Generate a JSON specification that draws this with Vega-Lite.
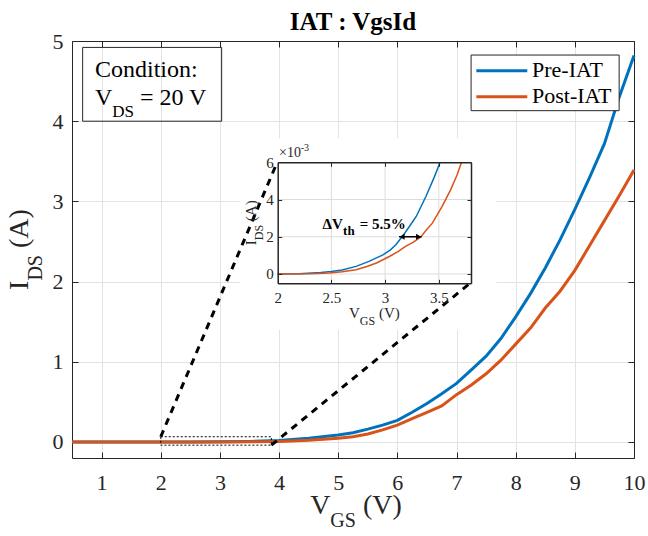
{
  "$schema": "https://vega.github.io/schema/vega-lite/v6.json",
  "width": 562,
  "height": 417,
  "autosize": {"type": "none"},
  "padding": {"left": 72, "top": 41, "right": 14, "bottom": 78},
  "background": "white",
  "data": {"values": [{}]},
  "config": {
    "view": {"stroke": null},
    "font": "Liberation Serif",
    "axis": {"domainColor": "#262626", "tickColor": "#262626", "labelColor": "#262626", "gridColor": "#e3e3e3", "labelFont": "Liberation Serif", "labelFlush": false, "labelOverlap": false},
    "text": {"font": "Liberation Serif"}
  },
  "layer": [
    {
      "layer": [
        {
          "layer": [
            {
              "mark": {"type": "rect", "fill": "white", "stroke": null},
              "encoding": {
                "x": {"datum": 3.34, "type": "quantitative"},
                "x2": {"datum": 7.67},
                "y": {"datum": 3.79, "type": "quantitative"},
                "y2": {"datum": 1.4}
              }
            },
            {
              "data": {"values": [
                {"series": "Pre-IAT", "VGS": 0.5, "IDS": 0},
                {"series": "Pre-IAT", "VGS": 1, "IDS": 0},
                {"series": "Pre-IAT", "VGS": 1.5, "IDS": 0},
                {"series": "Pre-IAT", "VGS": 2, "IDS": 0},
                {"series": "Pre-IAT", "VGS": 2.5, "IDS": 0.001},
                {"series": "Pre-IAT", "VGS": 3, "IDS": 0.002},
                {"series": "Pre-IAT", "VGS": 3.5, "IDS": 0.006},
                {"series": "Pre-IAT", "VGS": 4, "IDS": 0.018},
                {"series": "Pre-IAT", "VGS": 4.5, "IDS": 0.045},
                {"series": "Pre-IAT", "VGS": 5, "IDS": 0.087},
                {"series": "Pre-IAT", "VGS": 5.25, "IDS": 0.115},
                {"series": "Pre-IAT", "VGS": 5.5, "IDS": 0.16},
                {"series": "Pre-IAT", "VGS": 5.75, "IDS": 0.21},
                {"series": "Pre-IAT", "VGS": 6, "IDS": 0.27},
                {"series": "Pre-IAT", "VGS": 6.25, "IDS": 0.37},
                {"series": "Pre-IAT", "VGS": 6.5, "IDS": 0.48},
                {"series": "Pre-IAT", "VGS": 6.75, "IDS": 0.6},
                {"series": "Pre-IAT", "VGS": 7, "IDS": 0.73},
                {"series": "Pre-IAT", "VGS": 7.25, "IDS": 0.9},
                {"series": "Pre-IAT", "VGS": 7.5, "IDS": 1.07},
                {"series": "Pre-IAT", "VGS": 7.75, "IDS": 1.29},
                {"series": "Pre-IAT", "VGS": 8, "IDS": 1.56},
                {"series": "Pre-IAT", "VGS": 8.25, "IDS": 1.85},
                {"series": "Pre-IAT", "VGS": 8.5, "IDS": 2.17},
                {"series": "Pre-IAT", "VGS": 8.75, "IDS": 2.52},
                {"series": "Pre-IAT", "VGS": 9, "IDS": 2.9},
                {"series": "Pre-IAT", "VGS": 9.25, "IDS": 3.3},
                {"series": "Pre-IAT", "VGS": 9.5, "IDS": 3.72},
                {"series": "Pre-IAT", "VGS": 9.75, "IDS": 4.3},
                {"series": "Pre-IAT", "VGS": 10, "IDS": 4.82},
                {"series": "Post-IAT", "VGS": 0.5, "IDS": 0},
                {"series": "Post-IAT", "VGS": 1, "IDS": 0},
                {"series": "Post-IAT", "VGS": 2, "IDS": 0},
                {"series": "Post-IAT", "VGS": 3, "IDS": 0},
                {"series": "Post-IAT", "VGS": 3.5, "IDS": 0.002},
                {"series": "Post-IAT", "VGS": 4, "IDS": 0.006},
                {"series": "Post-IAT", "VGS": 4.5, "IDS": 0.02},
                {"series": "Post-IAT", "VGS": 5, "IDS": 0.046},
                {"series": "Post-IAT", "VGS": 5.25, "IDS": 0.065},
                {"series": "Post-IAT", "VGS": 5.5, "IDS": 0.1},
                {"series": "Post-IAT", "VGS": 5.75, "IDS": 0.15},
                {"series": "Post-IAT", "VGS": 6, "IDS": 0.21},
                {"series": "Post-IAT", "VGS": 6.25, "IDS": 0.29},
                {"series": "Post-IAT", "VGS": 6.5, "IDS": 0.37},
                {"series": "Post-IAT", "VGS": 6.75, "IDS": 0.45},
                {"series": "Post-IAT", "VGS": 7, "IDS": 0.59},
                {"series": "Post-IAT", "VGS": 7.25, "IDS": 0.71},
                {"series": "Post-IAT", "VGS": 7.5, "IDS": 0.85},
                {"series": "Post-IAT", "VGS": 7.75, "IDS": 1.02},
                {"series": "Post-IAT", "VGS": 8, "IDS": 1.22},
                {"series": "Post-IAT", "VGS": 8.25, "IDS": 1.42},
                {"series": "Post-IAT", "VGS": 8.5, "IDS": 1.67},
                {"series": "Post-IAT", "VGS": 8.75, "IDS": 1.88},
                {"series": "Post-IAT", "VGS": 9, "IDS": 2.14},
                {"series": "Post-IAT", "VGS": 9.25, "IDS": 2.45},
                {"series": "Post-IAT", "VGS": 9.5, "IDS": 2.76},
                {"series": "Post-IAT", "VGS": 9.75, "IDS": 3.07},
                {"series": "Post-IAT", "VGS": 10, "IDS": 3.39}
              ]},
              "mark": {"type": "line", "strokeWidth": 3},
              "encoding": {
                "x": {"field": "VGS", "type": "quantitative", "scale": {"domain": [0.5, 10], "nice": false, "zero": false},
                  "axis": {"orient": "bottom", "title": null, "values": [1, 2, 3, 4, 5, 6, 7, 8, 9, 10], "format": "d", "grid": true, "tickSize": -6, "labelFontSize": 22, "labelPadding": 20.5, "domainWidth": 1, "zindex": 0}},
                "y": {"field": "IDS", "type": "quantitative", "scale": {"domain": [-0.2, 5], "nice": false, "zero": false},
                  "axis": {"orient": "left", "title": null, "values": [0, 1, 2, 3, 4, 5], "format": "d", "grid": true, "tickSize": -6, "labelFontSize": 22, "labelPadding": 15, "domainWidth": 1, "zindex": 0}},
                "color": {"field": "series", "type": "nominal", "scale": {"domain": ["Pre-IAT", "Post-IAT"], "range": ["#0072BD", "#D95319"]}, "legend": null}
              }
            },
            {
              "mark": {"type": "rect", "filled": false, "stroke": "black", "strokeWidth": 1, "strokeDash": [2, 2]},
              "encoding": {
                "x": {"datum": 2, "type": "quantitative"},
                "x2": {"datum": 3.87},
                "y": {"datum": 0.065, "type": "quantitative"},
                "y2": {"datum": -0.04}
              }
            },
            {
              "data": {"values": [
                {"x1": 2, "y1": 0.065, "x2": 3.97, "y2": 3.49},
                {"x1": 3.87, "y1": -0.04, "x2": 7.23, "y2": 1.98}
              ]},
              "mark": {"type": "rule", "color": "black", "strokeWidth": 3, "strokeDash": [7, 6]},
              "encoding": {
                "x": {"field": "x1", "type": "quantitative"},
                "y": {"field": "y1", "type": "quantitative"},
                "x2": {"field": "x2"},
                "y2": {"field": "y2"}
              }
            },
            {
              "mark": {"type": "rect", "filled": false, "stroke": "#262626", "strokeWidth": 1},
              "encoding": {
                "x": {"datum": 0.68, "type": "quantitative"},
                "x2": {"datum": 3.03},
                "y": {"datum": 4.92, "type": "quantitative"},
                "y2": {"datum": 4.0}
              }
            },
            {
              "mark": {"type": "text", "text": "Condition:", "fontSize": 24, "align": "left", "baseline": "alphabetic", "color": "black"},
              "encoding": {"x": {"datum": 0.888, "type": "quantitative"}, "y": {"datum": 4.547, "type": "quantitative"}}
            },
            {
              "mark": {"type": "text", "text": "V", "fontSize": 24, "align": "left", "baseline": "alphabetic", "color": "black", "dy": 27.7},
              "encoding": {"x": {"datum": 0.888, "type": "quantitative"}, "y": {"datum": 4.547, "type": "quantitative"}}
            },
            {
              "mark": {"type": "text", "text": "DS", "fontSize": 17, "align": "left", "baseline": "alphabetic", "color": "black", "dx": 17.3, "dy": 39.7},
              "encoding": {"x": {"datum": 0.888, "type": "quantitative"}, "y": {"datum": 4.547, "type": "quantitative"}}
            },
            {
              "mark": {"type": "text", "text": "= 20 V", "fontSize": 24, "align": "left", "baseline": "alphabetic", "color": "black", "dx": 45, "dy": 27.7},
              "encoding": {"x": {"datum": 0.888, "type": "quantitative"}, "y": {"datum": 4.547, "type": "quantitative"}}
            },
            {
              "mark": {"type": "rect", "fill": "white", "stroke": "#262626", "strokeWidth": 1},
              "encoding": {
                "x": {"datum": 7.246, "type": "quantitative"},
                "x2": {"datum": 9.749},
                "y": {"datum": 4.825, "type": "quantitative"},
                "y2": {"datum": 4.131}
              }
            },
            {
              "mark": {"type": "rule", "color": "#0072BD", "strokeWidth": 3},
              "encoding": {"x": {"datum": 7.335, "type": "quantitative"}, "x2": {"datum": 8.196}, "y": {"datum": 4.63, "type": "quantitative"}}
            },
            {
              "mark": {"type": "rule", "color": "#D95319", "strokeWidth": 3},
              "encoding": {"x": {"datum": 7.335, "type": "quantitative"}, "x2": {"datum": 8.196}, "y": {"datum": 4.305, "type": "quantitative"}}
            },
            {
              "mark": {"type": "text", "text": "Pre-IAT", "fontSize": 22, "align": "left", "baseline": "alphabetic", "color": "black"},
              "encoding": {"x": {"datum": 8.276, "type": "quantitative"}, "y": {"datum": 4.547, "type": "quantitative"}}
            },
            {
              "mark": {"type": "text", "text": "Post-IAT", "fontSize": 22, "align": "left", "baseline": "alphabetic", "color": "black"},
              "encoding": {"x": {"datum": 8.276, "type": "quantitative"}, "y": {"datum": 4.223, "type": "quantitative"}}
            },
            {
              "mark": {"type": "text", "text": "IAT : VgsId", "fontSize": 25, "fontWeight": "bold", "align": "center", "baseline": "alphabetic", "color": "black", "dy": -11},
              "encoding": {"x": {"datum": 5.25, "type": "quantitative"}, "y": {"datum": 5, "type": "quantitative"}}
            },
            {
              "mark": {"type": "text", "text": "V", "fontSize": 28, "align": "left", "baseline": "alphabetic", "color": "#262626", "dx": -42.85, "dy": 55.5},
              "encoding": {"x": {"datum": 5.25, "type": "quantitative"}, "y": {"datum": -0.2, "type": "quantitative"}}
            },
            {
              "mark": {"type": "text", "text": "GS", "fontSize": 20, "align": "left", "baseline": "alphabetic", "color": "#262626", "dx": -22.65, "dy": 69},
              "encoding": {"x": {"datum": 5.25, "type": "quantitative"}, "y": {"datum": -0.2, "type": "quantitative"}}
            },
            {
              "mark": {"type": "text", "text": "(V)", "fontSize": 28, "align": "left", "baseline": "alphabetic", "color": "#262626", "dx": 9.95, "dy": 55.5},
              "encoding": {"x": {"datum": 5.25, "type": "quantitative"}, "y": {"datum": -0.2, "type": "quantitative"}}
            },
            {
              "mark": {"type": "text", "text": "I", "fontSize": 28, "angle": 270, "align": "left", "baseline": "alphabetic", "color": "#262626", "dx": -40.4, "dy": -44},
              "encoding": {"x": {"datum": 0.5, "type": "quantitative"}, "y": {"datum": 2.4, "type": "quantitative"}}
            },
            {
              "mark": {"type": "text", "text": "DS", "fontSize": 20, "angle": 270, "align": "left", "baseline": "alphabetic", "color": "#262626", "dx": -31.1, "dy": -30},
              "encoding": {"x": {"datum": 0.5, "type": "quantitative"}, "y": {"datum": 2.4, "type": "quantitative"}}
            },
            {
              "mark": {"type": "text", "text": "(A)", "fontSize": 28, "angle": 270, "align": "left", "baseline": "alphabetic", "color": "#262626", "dx": 1.5, "dy": -44},
              "encoding": {"x": {"datum": 0.5, "type": "quantitative"}, "y": {"datum": 2.4, "type": "quantitative"}}
            }
          ]
        },
        {
          "mark": {"type": "point", "opacity": 0},
          "encoding": {
            "x": {"datum": 5, "type": "quantitative", "axis": {"orient": "top", "title": null, "values": [1, 2, 3, 4, 5, 6, 7, 8, 9, 10], "labels": false, "grid": false, "tickSize": -6, "domainWidth": 1, "zindex": 0}},
            "y": {"datum": 2, "type": "quantitative", "axis": {"orient": "right", "title": null, "values": [0, 1, 2, 3, 4, 5], "labels": false, "grid": false, "tickSize": -6, "domainWidth": 1, "zindex": 0}}
          }
        }
      ],
      "resolve": {"axis": {"x": "independent", "y": "independent"}}
    },
    {
      "layer": [
        {
          "layer": [
            {
              "mark": {"type": "rect", "fill": "white", "stroke": null},
              "encoding": {
                "x": {"datum": 2, "type": "quantitative"},
                "x2": {"datum": 3.8},
                "y": {"datum": -0.0005, "type": "quantitative"},
                "y2": {"datum": 0.006}
              }
            },
            {
              "data": {"values": [{"VGS": 2.5}, {"VGS": 3}, {"VGS": 3.5}]},
              "mark": {"type": "rule", "color": "#dcdcdc", "strokeWidth": 1},
              "encoding": {"x": {"field": "VGS", "type": "quantitative"}, "y": {"datum": -0.0005, "type": "quantitative"}, "y2": {"datum": 0.006}}
            },
            {
              "data": {"values": [{"IDS": 0}, {"IDS": 0.002}, {"IDS": 0.004}]},
              "mark": {"type": "rule", "color": "#dcdcdc", "strokeWidth": 1},
              "encoding": {"y": {"field": "IDS", "type": "quantitative"}, "x": {"datum": 2, "type": "quantitative"}, "x2": {"datum": 3.8}}
            },
            {
              "data": {"values": [
                {"series": "Pre-IAT", "VGS": 2.0, "IDS": 0},
                {"series": "Pre-IAT", "VGS": 2.2, "IDS": 0.00001},
                {"series": "Pre-IAT", "VGS": 2.4, "IDS": 0.00008},
                {"series": "Pre-IAT", "VGS": 2.5, "IDS": 0.00013},
                {"series": "Pre-IAT", "VGS": 2.6, "IDS": 0.00022},
                {"series": "Pre-IAT", "VGS": 2.73, "IDS": 0.00041},
                {"series": "Pre-IAT", "VGS": 2.85, "IDS": 0.00068},
                {"series": "Pre-IAT", "VGS": 2.98, "IDS": 0.00103},
                {"series": "Pre-IAT", "VGS": 3.05, "IDS": 0.0013},
                {"series": "Pre-IAT", "VGS": 3.1, "IDS": 0.00157},
                {"series": "Pre-IAT", "VGS": 3.16, "IDS": 0.00201},
                {"series": "Pre-IAT", "VGS": 3.22, "IDS": 0.0025},
                {"series": "Pre-IAT", "VGS": 3.29, "IDS": 0.00309},
                {"series": "Pre-IAT", "VGS": 3.38, "IDS": 0.00416},
                {"series": "Pre-IAT", "VGS": 3.46, "IDS": 0.00523},
                {"series": "Pre-IAT", "VGS": 3.51, "IDS": 0.00598},
                {"series": "Post-IAT", "VGS": 2.0, "IDS": 0},
                {"series": "Post-IAT", "VGS": 2.3, "IDS": 0.00001},
                {"series": "Post-IAT", "VGS": 2.48, "IDS": 0.00005},
                {"series": "Post-IAT", "VGS": 2.6, "IDS": 0.00012},
                {"series": "Post-IAT", "VGS": 2.73, "IDS": 0.00023},
                {"series": "Post-IAT", "VGS": 2.83, "IDS": 0.0004},
                {"series": "Post-IAT", "VGS": 2.92, "IDS": 0.00059},
                {"series": "Post-IAT", "VGS": 3.04, "IDS": 0.00094},
                {"series": "Post-IAT", "VGS": 3.12, "IDS": 0.0012},
                {"series": "Post-IAT", "VGS": 3.19, "IDS": 0.00148},
                {"series": "Post-IAT", "VGS": 3.26, "IDS": 0.0017},
                {"series": "Post-IAT", "VGS": 3.33, "IDS": 0.00198},
                {"series": "Post-IAT", "VGS": 3.39, "IDS": 0.0024},
                {"series": "Post-IAT", "VGS": 3.44, "IDS": 0.00273},
                {"series": "Post-IAT", "VGS": 3.53, "IDS": 0.00362},
                {"series": "Post-IAT", "VGS": 3.61, "IDS": 0.00452},
                {"series": "Post-IAT", "VGS": 3.67, "IDS": 0.00532},
                {"series": "Post-IAT", "VGS": 3.71, "IDS": 0.00598}
              ]},
              "mark": {"type": "line", "strokeWidth": 1.5},
              "encoding": {
                "x": {"field": "VGS", "type": "quantitative", "scale": {"domain": [2, 3.8], "range": [205.7, 399], "nice": false, "zero": false},
                  "axis": {"orient": "bottom", "offset": -174.7, "title": null, "values": [2, 2.5, 3, 3.5], "format": "~g", "grid": false, "tickSize": -4, "labelFontSize": 15, "labelPadding": 10.7, "domainWidth": 1.5, "zindex": 1}},
                "y": {"field": "IDS", "type": "quantitative", "scale": {"domain": [-0.0005, 0.006], "range": [242.3, 121.3], "nice": false, "zero": false},
                  "axis": {"orient": "left", "offset": -205.7, "title": null, "values": [0, 0.002, 0.004, 0.006], "labelExpr": "format(datum.value*1000, '.0f')", "grid": false, "tickSize": -4, "labelFontSize": 15, "labelPadding": 8.4, "domainWidth": 1.5, "zindex": 1}},
                "color": {"field": "series", "type": "nominal", "legend": null}
              }
            },
            {
              "mark": {"type": "rule", "color": "black", "strokeWidth": 1.5},
              "encoding": {"x": {"datum": 3.13, "type": "quantitative"}, "x2": {"datum": 3.34}, "y": {"datum": 0.002, "type": "quantitative"}}
            },
            {
              "mark": {"type": "point", "shape": "triangle-left", "filled": true, "size": 35, "color": "black", "opacity": 1, "xOffset": 3},
              "encoding": {"x": {"datum": 3.13, "type": "quantitative"}, "y": {"datum": 0.002, "type": "quantitative"}}
            },
            {
              "mark": {"type": "point", "shape": "triangle-right", "filled": true, "size": 35, "color": "black", "opacity": 1, "xOffset": -3},
              "encoding": {"x": {"datum": 3.34, "type": "quantitative"}, "y": {"datum": 0.002, "type": "quantitative"}}
            },
            {
              "mark": {"type": "text", "text": "ΔV", "fontSize": 15, "fontWeight": "bold", "align": "left", "baseline": "alphabetic", "color": "black"},
              "encoding": {"x": {"datum": 2.417, "type": "quantitative"}, "y": {"datum": 0.00242, "type": "quantitative"}}
            },
            {
              "mark": {"type": "text", "text": "th", "fontSize": 13, "fontWeight": "bold", "align": "left", "baseline": "alphabetic", "color": "black", "dx": 20.6, "dy": 6},
              "encoding": {"x": {"datum": 2.417, "type": "quantitative"}, "y": {"datum": 0.00242, "type": "quantitative"}}
            },
            {
              "mark": {"type": "text", "text": "= 5.5%", "fontSize": 15, "fontWeight": "bold", "align": "left", "baseline": "alphabetic", "color": "black", "dx": 37.3},
              "encoding": {"x": {"datum": 2.417, "type": "quantitative"}, "y": {"datum": 0.00242, "type": "quantitative"}}
            },
            {
              "mark": {"type": "text", "text": "×10", "fontSize": 14, "align": "left", "baseline": "alphabetic", "color": "#262626", "dx": 1.3, "dy": -5},
              "encoding": {"x": {"datum": 2, "type": "quantitative"}, "y": {"datum": 0.006, "type": "quantitative"}}
            },
            {
              "mark": {"type": "text", "text": "-3", "fontSize": 10, "align": "left", "baseline": "alphabetic", "color": "#262626", "dx": 23, "dy": -11},
              "encoding": {"x": {"datum": 2, "type": "quantitative"}, "y": {"datum": 0.006, "type": "quantitative"}}
            },
            {
              "mark": {"type": "text", "text": "V", "fontSize": 15, "align": "left", "baseline": "alphabetic", "color": "#262626", "dx": -25.3, "dy": 34.4},
              "encoding": {"x": {"datum": 2.9, "type": "quantitative"}, "y": {"datum": -0.0005, "type": "quantitative"}}
            },
            {
              "mark": {"type": "text", "text": "GS", "fontSize": 12, "align": "left", "baseline": "alphabetic", "color": "#262626", "dx": -14.5, "dy": 41.4},
              "encoding": {"x": {"datum": 2.9, "type": "quantitative"}, "y": {"datum": -0.0005, "type": "quantitative"}}
            },
            {
              "mark": {"type": "text", "text": "(V)", "fontSize": 15, "align": "left", "baseline": "alphabetic", "color": "#262626", "dx": 4.55, "dy": 34.4},
              "encoding": {"x": {"datum": 2.9, "type": "quantitative"}, "y": {"datum": -0.0005, "type": "quantitative"}}
            },
            {
              "mark": {"type": "text", "text": "I", "fontSize": 15, "angle": 270, "align": "left", "baseline": "alphabetic", "color": "#262626", "dx": -22.4, "dy": -21.7},
              "encoding": {"x": {"datum": 2, "type": "quantitative"}, "y": {"datum": 0.00275, "type": "quantitative"}}
            },
            {
              "mark": {"type": "text", "text": "DS", "fontSize": 12, "angle": 270, "align": "left", "baseline": "alphabetic", "color": "#262626", "dx": -17.4, "dy": -14.7},
              "encoding": {"x": {"datum": 2, "type": "quantitative"}, "y": {"datum": 0.00275, "type": "quantitative"}}
            },
            {
              "mark": {"type": "text", "text": "(A)", "fontSize": 15, "angle": 270, "align": "left", "baseline": "alphabetic", "color": "#262626", "dx": 1.65, "dy": -21.7},
              "encoding": {"x": {"datum": 2, "type": "quantitative"}, "y": {"datum": 0.00275, "type": "quantitative"}}
            }
          ]
        },
        {
          "mark": {"type": "point", "opacity": 0},
          "encoding": {
            "x": {"datum": 3, "type": "quantitative", "axis": {"orient": "top", "offset": -121.3, "title": null, "values": [2, 2.5, 3, 3.5], "labels": false, "grid": false, "tickSize": -4, "domainWidth": 1.5, "zindex": 1}},
            "y": {"datum": 0.003, "type": "quantitative", "axis": {"orient": "right", "offset": -163, "title": null, "values": [0, 0.002, 0.004, 0.006], "labels": false, "grid": false, "tickSize": -4, "domainWidth": 1.5, "zindex": 1}}
          }
        }
      ],
      "resolve": {"axis": {"x": "independent", "y": "independent"}}
    }
  ],
  "resolve": {"scale": {"x": "independent", "y": "independent"}, "axis": {"x": "independent", "y": "independent"}}
}
